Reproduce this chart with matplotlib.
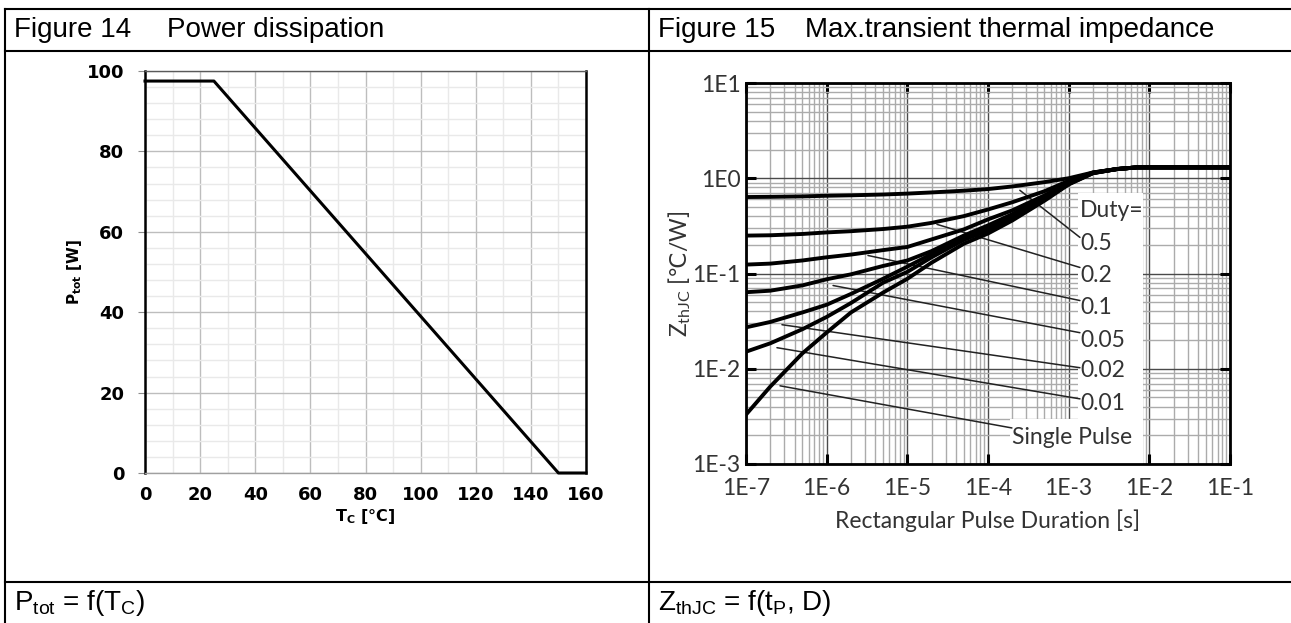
import numpy as np
import matplotlib
matplotlib.use('Agg')
import matplotlib.pyplot as plt
from matplotlib.lines import Line2D
from matplotlib.patches import Rectangle
from matplotlib.ticker import MultipleLocator, NullFormatter, LogLocator

W, H = 1291, 623

# ── Figure 14: power derating ────────────────────────────────────────────────
tc_pts   = [0, 25, 150, 160]
ptot_pts = [97.5, 97.5, 0, 0]

# ── Figure 15: transient thermal impedance ───────────────────────────────────
tp = [1e-7, 2e-7, 5e-7, 1e-6, 2e-6, 5e-6, 1e-5, 2e-5, 5e-5, 1e-4, 2e-4, 5e-4,
      1e-3, 2e-3, 4e-3, 7e-3, 1e-2, 1e-1]
zth_050 = [0.635, 0.638, 0.645, 0.655, 0.662, 0.675, 0.69, 0.71, 0.74, 0.77, 0.82, 0.91,
           1.00, 1.15, 1.25, 1.30, 1.30, 1.30]
zth_020 = [0.25, 0.252, 0.26, 0.27, 0.278, 0.293, 0.31, 0.34, 0.40, 0.47, 0.56, 0.73,
           0.94, 1.15, 1.25, 1.30, 1.30, 1.30]
zth_010 = [0.124, 0.127, 0.137, 0.148, 0.158, 0.176, 0.19, 0.228, 0.29, 0.37, 0.46, 0.66,
           0.91, 1.14, 1.25, 1.30, 1.30, 1.30]
zth_005 = [0.0636, 0.066, 0.075, 0.087, 0.098, 0.12, 0.137, 0.172, 0.25, 0.32, 0.42, 0.63,
           0.89, 1.14, 1.25, 1.30, 1.30, 1.30]
zth_002 = [0.0272, 0.031, 0.039, 0.047, 0.061, 0.088, 0.118, 0.16, 0.24, 0.30, 0.40, 0.61,
           0.88, 1.14, 1.25, 1.30, 1.30, 1.30]
zth_001 = [0.0151, 0.0185, 0.026, 0.035, 0.049, 0.08, 0.104, 0.148, 0.225, 0.284, 0.385, 0.60,
           0.87, 1.13, 1.25, 1.30, 1.30, 1.30]
zth_sp  = [0.0033, 0.0065, 0.0145, 0.024, 0.039, 0.063, 0.088, 0.13, 0.205, 0.263, 0.36, 0.58,
           0.86, 1.13, 1.25, 1.30, 1.30, 1.30]
curves = [zth_050, zth_020, zth_010, zth_005, zth_002, zth_001, zth_sp]

duty_labels = ['0.5', '0.2', '0.1', '0.05', '0.02', '0.01', 'Single Pulse']
# leader line: point near curve -> point at label
lead_from = [(2.48e-4, 0.748), (2.33e-5, 0.328), (3.25e-6, 0.1546), (1.20e-6, 0.0748),
             (2.79e-7, 0.0290), (2.42e-7, 0.01664), (2.64e-7, 0.00662)]
lead_to   = [(1.38e-3, 0.2393), (1.38e-3, 0.1157), (1.38e-3, 0.0520), (1.38e-3, 0.0239),
             (1.38e-3, 0.01025), (1.38e-3, 0.00483), (1.98e-4, 0.00239)]
label_pos = [(1.38e-3, 0.207), (1.38e-3, 0.0953), (1.38e-3, 0.0439), (1.38e-3, 0.0197),
             (1.38e-3, 0.00953), (1.38e-3, 0.00428), (1.98e-4, 0.00188)]

x_ticks = [1e-7, 1e-6, 1e-5, 1e-4, 1e-3, 1e-2, 1e-1]
x_tick_labels = ['1E-7', '1E-6', '1E-5', '1E-4', '1E-3', '1E-2', '1E-1']
y_ticks = [1e-3, 1e-2, 1e-1, 1e0, 1e1]
y_tick_labels = ['1E-3', '1E-2', '1E-1', '1E0', '1E1']

TXT = '#333333'
FS_R = 16.5   # text size in the right-hand chart

fig = plt.figure(figsize=(W / 100, H / 100), dpi=100, facecolor='white')

def fx(px): return px / W
def fy(py): return 1 - py / H

# ── table frame ──────────────────────────────────────────────────────────────
for (x0, y0, x1, y1) in [(5, 9, W, 9), (5, 51, W, 51), (5, 582, W, 582),
                         (5, 9, 5, H), (649, 9, 649, H)]:
    fig.add_artist(Line2D([fx(x0), fx(x1)], [fy(y0), fy(y1)], color='black', lw=1.5))

hdr = dict(family='Liberation Sans', fontsize=20, va='center', ha='left')
fig.text(fx(14), fy(30), 'Figure 14', **hdr)
fig.text(fx(167), fy(30), 'Power dissipation', **hdr)
fig.text(fx(658), fy(30), 'Figure 15', **hdr)
fig.text(fx(805), fy(30), 'Max.transient thermal impedance', **hdr)
fig.text(fx(14), fy(603), r'P$_{\mathregular{tot}}$ = f(T$_{\mathregular{C}}$)', **hdr)
fig.text(fx(658), fy(603), r'Z$_{\mathregular{thJC}}$ = f(t$_{\mathregular{P}}$, D)', **hdr)

# ── Figure 14 ────────────────────────────────────────────────────────────────
ax1 = fig.add_axes([fx(145), fy(473), (586 - 145) / W, (473 - 71) / H])
ax1.plot(tc_pts, ptot_pts, color='black', lw=2.2, zorder=3, clip_on=False)
ax1.set_xlim(0, 160)
ax1.set_ylim(0, 100)
ax1.xaxis.set_major_locator(MultipleLocator(20))
ax1.xaxis.set_minor_locator(MultipleLocator(10))
ax1.yaxis.set_major_locator(MultipleLocator(20))
ax1.yaxis.set_minor_locator(MultipleLocator(4))
ax1.grid(which='major', color='#bdbdbd', lw=1.0)
ax1.grid(which='minor', color='#e9e9e9', lw=1.0)
ax1.set_axisbelow(True)
ax1.tick_params(axis='x', which='both', length=0, pad=9)
ax1.tick_params(axis='y', which='major', length=5, color='#8c8c8c', pad=10)
ax1.tick_params(axis='y', which='minor', length=0)
for lab in ax1.get_xticklabels() + ax1.get_yticklabels():
    lab.set_fontweight('bold')
    lab.set_fontsize(13)
    lab.set_family('DejaVu Sans')
for s in ['left', 'right']:
    ax1.spines[s].set_linewidth(1.8)
    ax1.spines[s].set_color('black')
ax1.spines['top'].set_color('#5a5a5a')
ax1.spines['top'].set_linewidth(1.0)
ax1.spines['bottom'].set_color('#a0a0a0')
ax1.spines['bottom'].set_linewidth(1.0)

fig.text(fx(365), fy(516), r'T$_{\mathregular{C}}$ [°C]', fontweight='bold', fontsize=11.5,
         ha='center', va='center', family='DejaVu Sans')
fig.text(fx(75), fy(272), r'P$_{\mathregular{tot}}$ [W]', fontweight='bold', fontsize=11,
         ha='center', va='center', rotation=90, family='DejaVu Sans')

# ── Figure 15 ────────────────────────────────────────────────────────────────
ax2 = fig.add_axes([fx(746), fy(464), (1230 - 746) / W, (464 - 83) / H])
ax2.set_xscale('log')
ax2.set_yscale('log')
for z in curves:
    ax2.plot(tp, z, color='black', lw=2.8, zorder=3, solid_joinstyle='round')
ax2.set_xlim(1e-7, 1e-1)
ax2.set_ylim(1e-3, 1e1)
ax2.set_xticks(x_ticks, x_tick_labels)
ax2.set_yticks(y_ticks, y_tick_labels)
ax2.xaxis.set_minor_locator(LogLocator(base=10, subs=np.arange(2, 10), numticks=20))
ax2.yaxis.set_minor_locator(LogLocator(base=10, subs=np.arange(2, 10), numticks=20))
ax2.xaxis.set_minor_formatter(NullFormatter())
ax2.yaxis.set_minor_formatter(NullFormatter())
ax2.grid(which='minor', color='#ababab', lw=1.0)
ax2.grid(which='major', color='#4a4a4a', lw=1.0)
ax2.set_axisbelow(True)
ax2.tick_params(which='major', direction='in', length=7, width=2.2, top=True, right=True,
                labelcolor=TXT, labelsize=FS_R)
ax2.tick_params(axis='x', which='major', pad=10)
ax2.tick_params(axis='y', which='major', pad=4)
ax2.tick_params(which='minor', length=0)
for lab in ax2.get_xticklabels() + ax2.get_yticklabels():
    lab.set_family('Lato')
for s in ax2.spines.values():
    s.set_linewidth(2.0)
    s.set_color('black')
    s.set_zorder(5)

# white label panels
ax2.add_patch(Rectangle((1.30e-3, 0.00298), 8.32e-3 - 1.30e-3, 0.695 - 0.00298,
                        facecolor='white', edgecolor='none', zorder=1.2))
ax2.add_patch(Rectangle((1.87e-4, 1e-3), 8.32e-3 - 1.87e-4, 0.00298 - 1e-3,
                        facecolor='white', edgecolor='none', zorder=1.2))

for (p0, p1) in zip(lead_from, lead_to):
    ax2.annotate('', xy=p0, xytext=p1,
                 arrowprops=dict(arrowstyle='-', color='#222222', lw=1.1,
                                 shrinkA=0, shrinkB=0), zorder=2)
lbl = dict(family='Lato', fontsize=FS_R, color=TXT, ha='left', va='center', zorder=4)
ax2.text(1.38e-3, 0.460, 'Duty=', **lbl)
for (pos, txt) in zip(label_pos, duty_labels):
    ax2.text(pos[0], pos[1], txt, **lbl)

fig.text(fx(988), fy(521), 'Rectangular Pulse Duration [s]', family='Lato', fontsize=FS_R,
         color=TXT, ha='center', va='center')
fig.text(fx(680), fy(274), r'Z$_{\mathregular{thJC}}$ [$\mathrm{℃}$/W]', family='Lato',
         fontsize=FS_R, color=TXT, ha='center', va='center', rotation=90)

fig.savefig('out.png', dpi=100, facecolor='white')
